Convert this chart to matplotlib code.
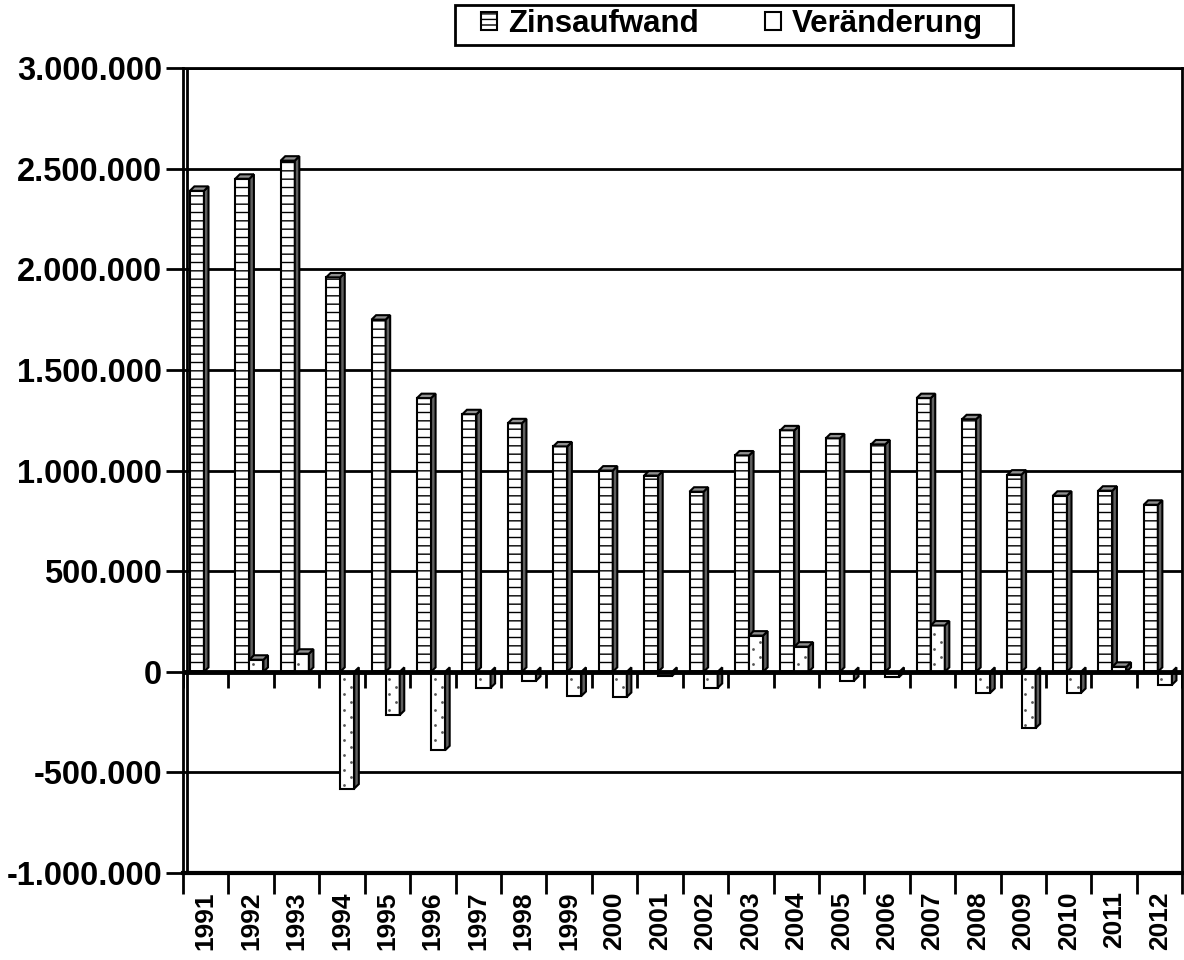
import matplotlib
matplotlib.use('Agg')
import matplotlib.pyplot as plt
from matplotlib.patches import Polygon, Patch, Rectangle
from matplotlib.ticker import FuncFormatter, MultipleLocator

# Zinsaufwand und Veränderung zum Vorjahr
years = [str(y) for y in range(1991, 2013)]
zinsaufwand = [2390000, 2450000, 2540000, 1960000, 1750000, 1360000, 1280000,
               1235000, 1120000, 1000000, 975000, 895000, 1075000, 1200000,
               1160000, 1130000, 1360000, 1255000, 980000, 875000, 900000,
               830000]
veraenderung = [0, 60000, 90000, -580000, -215000, -390000, -80000, -45000,
                -120000, -125000, -20000, -80000, 180000, 125000, -45000,
                -25000, 230000, -105000, -280000, -105000, 25000, -65000]

plt.rcParams['font.family'] = ['Liberation Sans', 'DejaVu Sans']
plt.rcParams['font.weight'] = 'bold'
plt.rcParams['hatch.linewidth'] = 1.0

fig = plt.figure(figsize=(11.84, 9.6), dpi=100)
ax = fig.add_axes([0.1546, 0.0906, 0.844, 0.8385])

bar_w = 0.31
dx, dy = 0.1, 22000  # 3D depth in data units


def bar3d(x, h, hatch):
    if h == 0:
        return
    ax.bar(x, h, width=bar_w, align='edge', color='white', edgecolor='black',
           linewidth=1.5, hatch=hatch, zorder=3)
    side = [(x + bar_w, 0), (x + bar_w + dx, dy), (x + bar_w + dx, h + dy), (x + bar_w, h)]
    ax.add_patch(Polygon(side, closed=True, facecolor='#606060', edgecolor='black',
                         linewidth=1.5, zorder=3))
    if h > 0:
        cap = [(x, h), (x + dx, h + dy), (x + bar_w + dx, h + dy), (x + bar_w, h)]
        ax.add_patch(Polygon(cap, closed=True, facecolor='#909090', edgecolor='black',
                             linewidth=1.5, zorder=3))


def dots(x, h):
    # sparse staggered dots like the original fill pattern
    step = 75000
    sign = 1 if h >= 0 else -1
    k = 1
    xs, ys = [], []
    while k * step / 2 < abs(h) - 15000:
        xs.append(x + (0.25 if k % 2 else 0.75) * bar_w)
        ys.append(sign * k * step / 2)
        k += 1
    ax.scatter(xs, ys, s=4, color='#555555', zorder=4, linewidths=0)


for i, (z, v) in enumerate(zip(zinsaufwand, veraenderung)):
    bar3d(i + 0.15, z, '--')
    bar3d(i + 0.46, v, None)
    dots(i + 0.46, v)

ax.set_xlim(0, len(years))
ax.set_ylim(-1000000, 3000000)
ax.yaxis.set_major_locator(MultipleLocator(500000))
ax.yaxis.set_major_formatter(FuncFormatter(lambda v, p: f'{int(v):,}'.replace(',', '.')))
ax.yaxis.grid(True, color='black', linewidth=2, zorder=1)

ax.set_xticks(range(len(years) + 1))
ax.set_xticklabels([])
ax.set_xticks([i + 0.5 for i in range(len(years))], minor=True)
ax.set_xticklabels(years, minor=True, rotation=90, fontsize=19, fontweight='bold')
ax.tick_params(axis='x', which='minor', length=0, pad=13)
ax.tick_params(axis='x', which='major', length=15, width=2, direction='out')
ax.tick_params(axis='y', length=12, width=2, labelsize=23.5, pad=3)
for lab in ax.get_yticklabels():
    lab.set_fontweight('bold')

# zero line with downward ticks, 3D wall edge on the left
ax.axhline(0, color='black', linewidth=3.5, zorder=4)
ax.vlines(range(len(years) + 1), -80000, 0, color='black', linewidth=2, zorder=4)
ax.axvline(0.09, color='black', linewidth=2, zorder=2)

for s in ax.spines.values():
    s.set_linewidth(2)
ax.spines['bottom'].set_linewidth(3)

handles = [Patch(facecolor='white', edgecolor='black', linewidth=1.5, hatch='---',
                 label='Zinsaufwand'),
           Patch(facecolor='white', edgecolor='black', linewidth=1.5, label='Veränderung')]
fig.legend(handles=handles, loc='upper left', bbox_to_anchor=(481 / 1184, 1 - 9 / 960),
           ncol=2, frameon=False, prop={'weight': 'bold', 'size': 22.5},
           handlelength=0.52, handleheight=0.52, columnspacing=2.1,
           handletextpad=0.35, borderpad=0, borderaxespad=0)
fig.add_artist(Rectangle((455 / 1184, 1 - 45 / 960), 558 / 1184, 40 / 960,
                         transform=fig.transFigure, fill=False, edgecolor='black',
                         linewidth=2))

fig.savefig('out.png', dpi=100)
